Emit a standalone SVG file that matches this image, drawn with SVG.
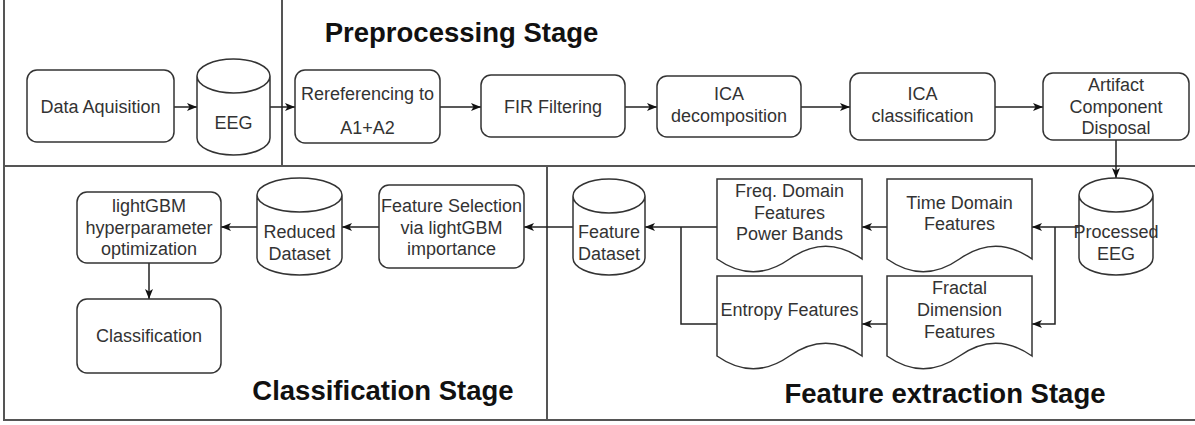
<svg xmlns="http://www.w3.org/2000/svg" width="1195" height="425" viewBox="0 0 1195 425">
  <style>
    .panel { fill: none; stroke: #555; stroke-width: 2; }
    .box { fill: #fff; stroke: #333; stroke-width: 1.5; }
    .edge { fill: none; stroke: #222; stroke-width: 1.5; }
    .lbl { font-family: "Liberation Sans", Arial, sans-serif; font-size: 18px; fill: #333; text-anchor: middle; }
    .title { font-family: "Liberation Sans", Arial, sans-serif; font-size: 27.5px; font-weight: bold; fill: #111; text-anchor: middle; }
  </style>
  <defs>
    <marker id="arrow" markerUnits="userSpaceOnUse" markerWidth="10" markerHeight="10" viewBox="0 0 10 10" refX="10" refY="5" orient="auto">
      <path d="M0,1 L10,5 L0,9 L2.5,5 Z" fill="#111"/>
    </marker>
  </defs>
  <rect width="1195" height="425" fill="#fff"/>

  <!-- stage panels -->
  <g id="panels">
    <path class="panel" d="M4,0 V420 H1195"/>
    <path class="panel" d="M4,166 H1195"/>
    <path class="panel" d="M282,0 V166"/>
    <path class="panel" d="M547,166 V420"/>
  </g>

  <!-- stage titles -->
  <g id="titles">
    <text class="title" x="461.5" y="42">Preprocessing Stage</text>
    <text class="title" x="383" y="400">Classification Stage</text>
    <text class="title" x="945" y="403">Feature extraction Stage</text>
  </g>

  <!-- connectors -->
  <g id="connectors" class="edge">
    <path d="M174,107 H197" marker-end="url(#arrow)"/>
    <path d="M270,107 H295" marker-end="url(#arrow)"/>
    <path d="M440,107 H481" marker-end="url(#arrow)"/>
    <path d="M625,107 H657" marker-end="url(#arrow)"/>
    <path d="M801,107 H850" marker-end="url(#arrow)"/>
    <path d="M995,107 H1043" marker-end="url(#arrow)"/>
    <path d="M1116,140 V178" marker-end="url(#arrow)"/>
    <path d="M1079,227 H1032" marker-end="url(#arrow)"/>
    <path d="M1055,227 V324 H1032" marker-end="url(#arrow)"/>
    <path d="M887,227 H862" marker-end="url(#arrow)"/>
    <path d="M887,324 H862" marker-end="url(#arrow)"/>
    <path d="M717,227 H645" marker-end="url(#arrow)"/>
    <path d="M717,324 H681 V227"/>
    <path d="M573,227 H524" marker-end="url(#arrow)"/>
    <path d="M379,227 H342" marker-end="url(#arrow)"/>
    <path d="M257,227 H221" marker-end="url(#arrow)"/>
    <path d="M149,263 V299" marker-end="url(#arrow)"/>
  </g>

  <!-- preprocessing row -->
  <g id="data-acquisition">
    <rect class="box" x="27" y="70" width="147" height="72" rx="10"/>
    <text class="lbl" x="100.5" y="113">Data Aquisition</text>
  </g>
  <g id="eeg">
    <path class="box" d="M197,76 A36.5,17 0 0 1 270,76 V138 A36.5,17 0 0 1 197,138 Z M197,76 A36.5,17 0 0 0 270,76"/>
    <text class="lbl" x="233.5" y="129">EEG</text>
  </g>
  <g id="rereferencing">
    <rect class="box" x="295" y="70" width="145" height="73" rx="10"/>
    <text class="lbl" x="367.5" y="100">Rereferencing to</text>
    <text class="lbl" x="367.5" y="134">A1+A2</text>
  </g>
  <g id="fir-filtering">
    <rect class="box" x="481" y="75" width="144" height="62" rx="10"/>
    <text class="lbl" x="553" y="113">FIR Filtering</text>
  </g>
  <g id="ica-decomposition">
    <rect class="box" x="657" y="76" width="144" height="61" rx="10"/>
    <text class="lbl" x="729" y="100">ICA</text>
    <text class="lbl" x="729" y="122">decomposition</text>
  </g>
  <g id="ica-classification">
    <rect class="box" x="850" y="73" width="145" height="67" rx="10"/>
    <text class="lbl" x="922.5" y="100">ICA</text>
    <text class="lbl" x="922.5" y="122">classification</text>
  </g>
  <g id="artifact-disposal">
    <rect class="box" x="1043" y="73" width="146" height="67" rx="10"/>
    <text class="lbl" x="1116" y="91">Artifact</text>
    <text class="lbl" x="1116" y="112.6">Component</text>
    <text class="lbl" x="1116" y="134.2">Disposal</text>
  </g>

  <!-- feature extraction -->
  <g id="processed-eeg">
    <path class="box" d="M1079,195 A37,17 0 0 1 1153,195 V258 A37,17 0 0 1 1079,258 Z M1079,195 A37,17 0 0 0 1153,195"/>
    <text class="lbl" x="1116" y="238">Processed</text>
    <text class="lbl" x="1116" y="260">EEG</text>
  </g>
  <g id="time-domain">
    <path class="box" d="M887,179 H1032 V259 Q995.75,233.5 959.5,259 Q923.25,284.5 887,259 Z"/>
    <text class="lbl" x="959.5" y="208.5">Time Domain</text>
    <text class="lbl" x="959.5" y="230">Features</text>
  </g>
  <g id="fractal-dimension">
    <path class="box" d="M887,276 H1032 V356 Q995.75,330.5 959.5,356 Q923.25,381.5 887,356 Z"/>
    <text class="lbl" x="959.5" y="294">Fractal</text>
    <text class="lbl" x="959.5" y="316">Dimension</text>
    <text class="lbl" x="959.5" y="338">Features</text>
  </g>
  <g id="freq-domain">
    <path class="box" d="M717,179 H862 V259 Q825.75,233.5 789.5,259 Q753.25,284.5 717,259 Z"/>
    <text class="lbl" x="789.5" y="197">Freq. Domain</text>
    <text class="lbl" x="789.5" y="218.6">Features</text>
    <text class="lbl" x="789.5" y="240.2">Power Bands</text>
  </g>
  <g id="entropy">
    <path class="box" d="M717,276 H862 V356 Q825.75,330.5 789.5,356 Q753.25,381.5 717,356 Z"/>
    <text class="lbl" x="789.5" y="316">Entropy Features</text>
  </g>
  <g id="feature-dataset">
    <path class="box" d="M573,196 A36,17 0 0 1 645,196 V258 A36,17 0 0 1 573,258 Z M573,196 A36,17 0 0 0 645,196"/>
    <text class="lbl" x="609" y="238">Feature</text>
    <text class="lbl" x="609" y="260">Dataset</text>
  </g>

  <!-- classification -->
  <g id="feature-selection">
    <rect class="box" x="379" y="185" width="145" height="83" rx="10"/>
    <text class="lbl" x="451.5" y="212">Feature Selection</text>
    <text class="lbl" x="451.5" y="233.6">via lightGBM</text>
    <text class="lbl" x="451.5" y="255.2">importance</text>
  </g>
  <g id="reduced-dataset">
    <path class="box" d="M257,195 A42.5,17 0 0 1 342,195 V258 A42.5,17 0 0 1 257,258 Z M257,195 A42.5,17 0 0 0 342,195"/>
    <text class="lbl" x="299.5" y="238">Reduced</text>
    <text class="lbl" x="299.5" y="260">Dataset</text>
  </g>
  <g id="hyperparameter-optimization">
    <rect class="box" x="77" y="192" width="144" height="71" rx="10"/>
    <text class="lbl" x="149" y="212">lightGBM</text>
    <text class="lbl" x="149" y="233.6">hyperparameter</text>
    <text class="lbl" x="149" y="255.2">optimization</text>
  </g>
  <g id="classification">
    <rect class="box" x="77" y="299" width="144" height="74" rx="10"/>
    <text class="lbl" x="149" y="342">Classification</text>
  </g>
</svg>
